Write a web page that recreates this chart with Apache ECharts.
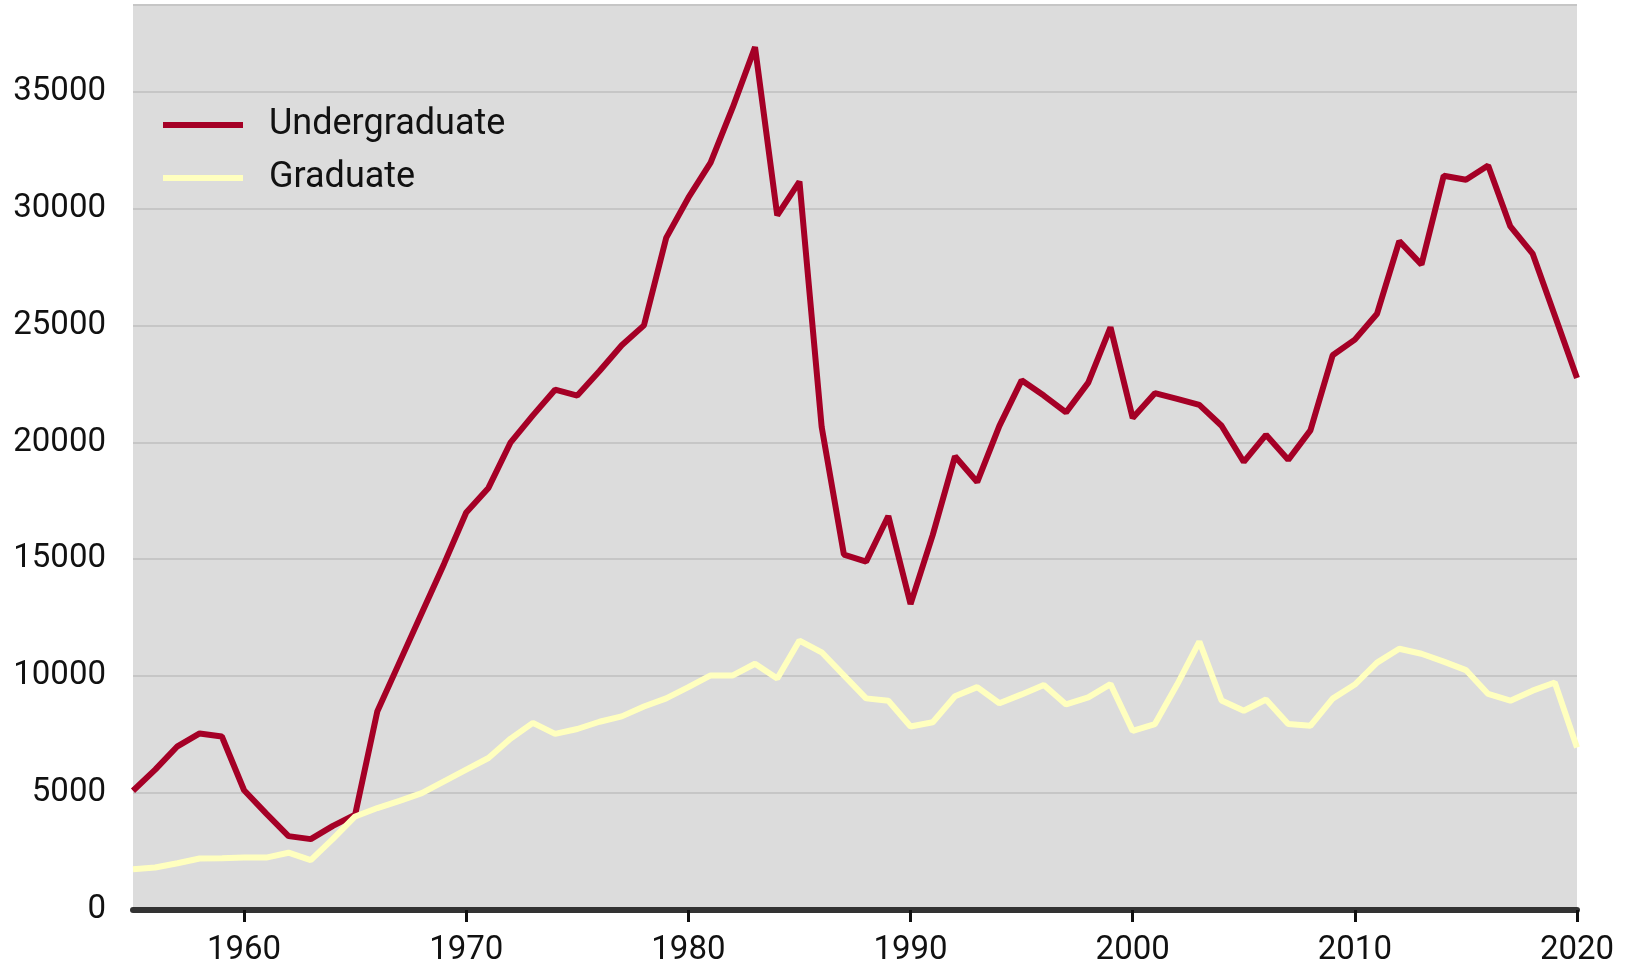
<!DOCTYPE html>
<html>
<head>
<meta charset="utf-8">
<script src="https://cdn.jsdelivr.net/npm/echarts@6/dist/echarts.min.js"></script>
<style>
  html, body { margin: 0; padding: 0; background: #fff; }
  #main { width: 1627px; height: 969px; }
</style>
</head>
<body>
<div id="main"></div>
<script>
// years on the x axis
var years = [];
for (var y = 1955; y <= 2020; y++) years.push(String(y));

var undergraduate = [
  5100, 6000, 7000, 7550, 7420, 5120, 4120, 3160, 3030, 3600,
  4080, 8500, 10600, 12700, 14800, 17000, 18050, 20000, 21150, 22250,
  22000, 23050, 24150, 25000, 28740, 30460, 31960, 34330, 36900, 29700,
  31150, 20650, 15200, 14900, 16850, 13080, 16040, 19400, 18300, 20700,
  22650, 22000, 21280, 22550, 24920, 21040, 22100, 21860, 21600, 20710,
  19160, 20320, 19250, 20510, 23720, 24390, 25500, 28600, 27600, 31400,
  31230, 31840, 29230, 28070, 25420, 22750
];
var graduate = [
  1740, 1815, 2000, 2200, 2210, 2240, 2240, 2450, 2130, 3040,
  4000, 4360, 4670, 5000, 5500, 6000, 6500, 7330, 8000, 7530,
  7740, 8050, 8280, 8700, 9050, 9530, 10030, 10030, 10530, 9900,
  11520, 11020, 10030, 9050, 8950, 7850, 8030, 9140, 9530, 8840,
  9220, 9620, 8790, 9090, 9660, 7660, 7950, 9640, 11480, 8960,
  8520, 9000, 7950, 7880, 9040, 9640, 10580, 11170, 10960, 10620,
  10260, 9240, 8950, 9380, 9730, 6950
];
var yTicks = [0, 5000, 10000, 15000, 20000, 25000, 30000, 35000];

var myChart = echarts.init(document.getElementById('main'));

var isDecade = function (i, v) { return Number(v) % 10 === 0; };

var option = {
  animation: false,
  textStyle: { fontFamily: 'Roboto' },
  grid: {
    left: 133, right: 50, top: 5, bottom: 59,
    show: true, backgroundColor: '#dcdcdc', borderWidth: 0
  },
  legend: {
    orient: 'vertical',
    left: 158, top: 102,
    itemWidth: 80, itemHeight: 6, itemGap: 17,
    icon: 'rect',
    textStyle: { fontSize: 36, color: '#111', lineHeight: 36, padding: [0, 0, 0, 21], fontFamily: 'Roboto' },
    data: ['Undergraduate', 'Graduate']
  },
  xAxis: {
    type: 'category',
    data: years,
    boundaryGap: false,
    axisLine: { lineStyle: { color: '#333', width: 6 } },
    axisTick: { interval: isDecade, length: 12, lineStyle: { color: '#111', width: 3 } },
    axisLabel: { interval: isDecade, fontSize: 33, color: '#111', margin: 24 },
    splitLine: { show: false }
  },
  yAxis: {
    type: 'value',
    min: 0, max: 38700, interval: 5000,
    axisLine: { show: false },
    axisTick: { show: false },
    axisLabel: {
      fontSize: 33, color: '#111', margin: 27,
      showMaxLabel: false,
      formatter: function (v) { return yTicks.indexOf(v) >= 0 ? String(v) : ''; }
    },
    splitLine: { lineStyle: { color: '#c6c6c6', width: 2 } }
  },
  series: [
    {
      name: 'Undergraduate', type: 'line', data: undergraduate,
      showSymbol: false, color: '#a50026',
      lineStyle: { width: 6, color: '#a50026' }
    },
    {
      name: 'Graduate', type: 'line', data: graduate,
      showSymbol: false, color: '#ffffbf',
      lineStyle: { width: 6, color: '#ffffbf' }
    }
  ]
};

myChart.setOption(option);
</script>
</body>
</html>
